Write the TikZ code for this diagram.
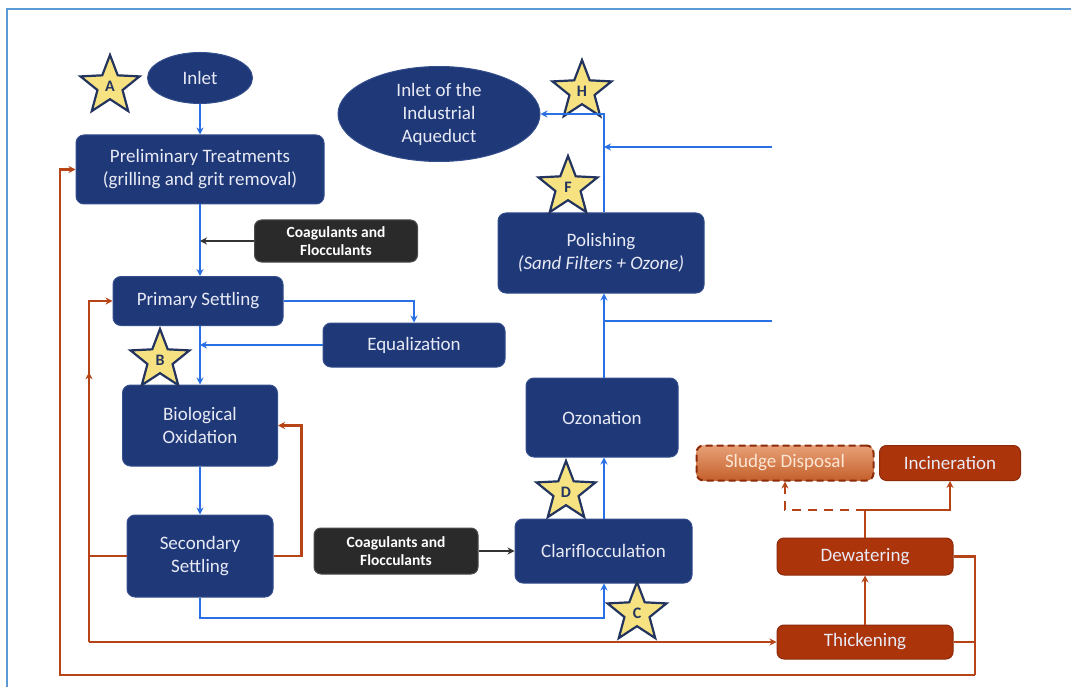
\documentclass[tikz,border=0pt]{standalone}
\usepackage{fontspec}
\setmainfont{Carlito}
\usetikzlibrary{shapes.geometric,arrows.meta,decorations.markings}
\definecolor{navy}{RGB}{31,56,120}
\definecolor{navyedge}{RGB}{52,78,140}
\definecolor{flow}{RGB}{40,112,228}
\definecolor{framec}{RGB}{91,155,213}
\definecolor{rust}{RGB}{182,68,22}
\definecolor{rustbox}{RGB}{172,52,10}
\definecolor{rustedge}{RGB}{140,42,10}
\definecolor{chem}{RGB}{42,42,42}
\definecolor{staryel}{RGB}{247,226,130}
\definecolor{stardark}{RGB}{35,52,95}
\definecolor{txt}{RGB}{232,234,245}
\definecolor{sludgetop}{RGB}{232,160,118}
\definecolor{sludgebot}{RGB}{196,96,44}
\definecolor{sludgetxt}{RGB}{252,230,212}
\newcommand\mainsize{\fontsize{19}{23}\selectfont}
\newcommand\chemsize{\fontsize{15.5}{18.5}\selectfont\bfseries}
\begin{document}
\begin{tikzpicture}[x=1pt,y=-1pt,
  proc/.style={rectangle, rounded corners=8pt, fill=navy, draw=navyedge, line width=1pt,
    text=txt, font=\mainsize, align=center, inner sep=0pt},
  oval/.style={ellipse, fill=navy, draw=navyedge, line width=1pt,
    text=txt, font=\mainsize, align=center, inner sep=0pt},
  chembox/.style={rectangle, rounded corners=7pt, fill=chem, draw=gray!60!black, line width=1pt,
    text=white, font=\chemsize, align=center, inner sep=0pt},
  sludgebox/.style={rectangle, rounded corners=7pt, fill=rustbox, draw=rustedge, line width=1pt,
    text=txt, font=\mainsize, align=center, inner sep=0pt},
  marker/.style={star, star points=5, star point ratio=2.35, minimum size=62pt, inner sep=0pt,
    fill=staryel, draw=stardark, line width=2.2pt, text=stardark, font=\fontsize{16}{16}\selectfont\bfseries},
  flowline/.style={draw=flow, line width=2.4pt},
  flowarr/.style={flowline, -{Stealth[length=7pt,width=7pt]}},
  chemarr/.style={draw=black!80, line width=2pt, -{Stealth[length=7pt,width=7pt]}},
  rustline/.style={draw=rust, line width=2.8pt},
  rustarr/.style={rustline, -{Stealth[length=7pt,width=7pt]}}
]
\useasboundingbox (0,0) rectangle (1071,687);
\fill[white] (0,0) rectangle (1071,687);
\draw[framec, line width=2pt] (1075,9) -- (7,9) -- (7,692);

% nodes
\node[oval, minimum width=105pt, minimum height=51pt] (inlet) at (200,78) {Inlet};
\node[proc, minimum width=248pt, minimum height=69pt] (prelim) at (200,169.5) {Preliminary Treatments\\(grilling and grit removal)};
\node[chembox, minimum width=163pt, minimum height=42pt] (coagA) at (336,241) {Coagulants and\\Flocculants};
\node[proc, minimum width=170pt, minimum height=49pt] (prim) at (198,301) {Primary Settling};
\node[proc, minimum width=182pt, minimum height=44pt] (equal) at (414,345) {Equalization};
\node[proc, minimum width=155pt, minimum height=81pt] (bio) at (200,425.5) {Biological\\Oxidation};
\node[proc, minimum width=146pt, minimum height=82pt] (sec) at (200,556) {Secondary\\Settling};
\node[chembox, minimum width=164pt, minimum height=46pt] (coagB) at (396,551) {Coagulants and\\Flocculants};
\node[proc, minimum width=177pt, minimum height=64pt] (clar) at (603.5,551) {Clariflocculation};
\node[proc, minimum width=152pt, minimum height=79pt] (ozon) at (602,417.5) {Ozonation};
\node[proc, minimum width=206pt, minimum height=80pt] (polish) at (601,253) {Polishing\\\textit{(Sand Filters + Ozone)}};
\node[oval, minimum width=202pt, minimum height=95pt] (aque) at (439,114) {Inlet of the\\Industrial\\Aqueduct};
\node[sludgebox, minimum width=177pt, minimum height=35pt, top color=sludgetop, bottom color=sludgebot,
  draw=rustedge, dash pattern=on 7pt off 4pt, line width=2pt, text=sludgetxt] (sludge) at (785,463) {Sludge Disposal};
\node[sludgebox, minimum width=141pt, minimum height=35pt] (incin) at (950,463) {Incineration};
\node[sludgebox, minimum width=176pt, minimum height=37pt] (dewat) at (865,556.5) {Dewatering};
\node[sludgebox, minimum width=176pt, minimum height=34pt] (thick) at (865,642) {Thickening};

% stars
\node[marker] (sA) at (110,86) {A};
\node[marker] (sB) at (160,360) {B};
\node[marker] (sH) at (582,91) {H};
\node[marker] (sF) at (568,187) {F};
\node[marker] (sD) at (566,492) {D};
\node[marker] (sC) at (637,613) {C};

% coordinates
\coordinate (blow) at (604,618);
\coordinate (inL) at (89,642);
\coordinate (outL) at (60,675);
\coordinate (outR) at (975,675);
\coordinate (split) at (865,510);
\coordinate (feedTop) at (772,147);
\coordinate (feedMid) at (772,321);

% blue main flow
\draw[flowarr] (inlet) -- (prelim);
\draw[flowarr] (prelim.south) -- (prim.north -| prelim.south);
\draw[flowarr] (prim.east) -| (equal.north);
\draw[flowarr] (prim.south -| bio.north) -- (bio.north);
\draw[flowarr] (equal.west) -- (equal.west -| bio.north);
\draw[flowarr] (bio.south) -- (sec.north);
\draw[flowarr] (sec.south) -- (sec.south |- blow) -| (clar.south -| blow);
\draw[flowarr] (clar.north -| blow) -- (ozon.south -| blow);
\draw[flowarr] (ozon.north -| blow) -- (polish.south -| blow);
\draw[flowline] (feedMid) -- (feedMid -| blow);
\draw[flowarr] (polish.north -| blow) |- (aque.east);
\draw[flowarr] (feedTop) -- (feedTop -| blow);

% chemicals
\draw[chemarr] (coagA.west) -- (coagA.west -| prelim.south);
\draw[chemarr] (coagB.east) -- (clar.west);

% sludge lines
\draw[rustarr] (sec.east) -- ++(28,0) |- (bio.east);
\draw[rustline] (sec.west) -- (sec.west -| inL);
\draw[rustarr, postaction={decorate}, decoration={markings, mark=at position 0.74 with {\arrow{Stealth[length=7pt,width=7pt]}}}] (inL) |- (prim.west);
\draw[rustarr] (inL) -- (thick.west);
\draw[rustline] (dewat.east) -| (outR);
\draw[rustline] (thick.east) -- (thick.east -| outR);
\draw[rustarr] (outR) -- (outL) |- (prelim.west);
\draw[rustarr] (thick.north) -- (dewat.south);
\draw[rustline] (dewat.north) -- (split);
\draw[rustarr] (split) -| (incin.south);
\draw[rustarr, dash pattern=on 9pt off 7pt] (split) -| (sludge.south);
\end{tikzpicture}
\end{document}
